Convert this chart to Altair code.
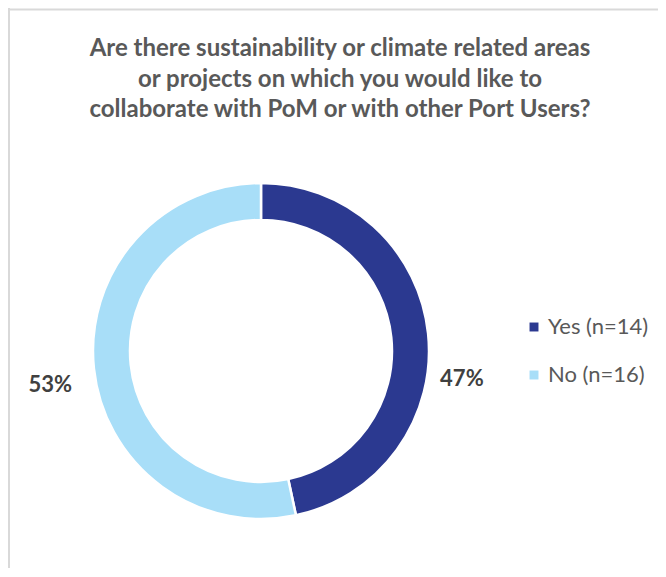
import altair as alt
import pandas as pd
import math

categories = ["Yes (n=14)", "No (n=16)"]
counts = [14, 16]
colors = ["#2B3990", "#A8DEF8"]
title_lines = [
    "Are there sustainability or climate related areas",
    "or projects on which you would like to",
    "collaborate with PoM or with other Port Users?",
]

total = sum(counts)
labels = [f"{round(100 * c / total)}%" for c in counts]
df = pd.DataFrame({"cat": categories, "n": counts, "label": labels, "order": list(range(len(categories)))})

W, H = 650, 560
CX, CY = 253, 343

base = alt.Chart(df).encode(x=alt.value(CX), y=alt.value(CY))

arc = base.mark_arc(outerRadius=168, innerRadius=131, stroke="white", strokeWidth=2.5).encode(
    theta=alt.Theta("n:Q", stack=True),
    order=alt.Order("order:Q"),
    color=alt.Color(
        "cat:N",
        scale=alt.Scale(domain=categories, range=colors),
        sort=categories,
        legend=alt.Legend(
            title=None,
            orient="none",
            legendX=515,
            legendY=308,
            symbolType="square",
            symbolSize=80,
            symbolStrokeWidth=0,
            labelFontSize=22,
            labelFont="Lato",
            labelColor="#595959",
            labelOffset=3,
            rowPadding=26,
            padding=0,
        ),
    ),
)

lab_base = base.transform_window(
    cum="sum(n)", sort=[alt.SortField("order")], frame=[None, 0]
).transform_joinaggregate(tot="sum(n)").transform_calculate(
    mid="(datum.cum - datum.n / 2) / datum.tot"
).encode(
    theta=alt.Theta("mid:Q", stack=None, scale=alt.Scale(domain=[0, 1], range=[0, 2 * math.pi])),
    text="label:N",
)

txt_style = dict(font="Lato", fontSize=22, fontWeight="bold", color="#404040", align="center", baseline="middle")
lab_yes = lab_base.mark_text(radius=202, dy=49, **txt_style).transform_filter(alt.datum.cat == categories[0])
lab_no = lab_base.mark_text(radius=212, dy=12, **txt_style).transform_filter(alt.datum.cat == categories[1])

frame_df = pd.DataFrame({"k": [0]})
top_line = alt.Chart(frame_df).mark_rule(color="#D9D9D9", strokeWidth=2).encode(
    x=alt.value(0), x2=alt.value(W), y=alt.value(1.5)
)
left_line = alt.Chart(frame_df).mark_rule(color="#D9D9D9", strokeWidth=2).encode(
    x=alt.value(1), y=alt.value(0), y2=alt.value(H)
)

chart = (
    alt.layer(top_line, left_line, arc, lab_yes, lab_no)
    .resolve_scale(theta="independent")
    .properties(
        width=W,
        height=H,
        autosize=alt.AutoSizeParams(type="none"),
        padding=0,
        title=alt.Title(
            title_lines,
            font="Lato",
            fontSize=24,
            fontWeight="bold",
            color="#595959",
            lineHeight=30.5,
            anchor="middle",
            frame="group",
            offset=-115,
            dx=7,
        ),
    )
    .configure_view(stroke=None)
)

chart.save("out.html", embed_options={"renderer": "svg", "actions": False})
